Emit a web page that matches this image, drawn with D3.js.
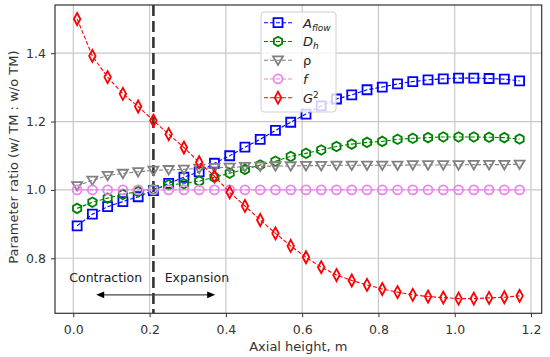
<!DOCTYPE html>
<html>
<head>
<meta charset="utf-8">
<script src="https://cdn.jsdelivr.net/npm/d3@7"></script>
<style>
  body { margin: 0; background: #fff; }
  svg { font-family: "DejaVu Sans", sans-serif; }
</style>
</head>
<body>
<svg id="chart" width="550" height="357"></svg>
<script>
// axial positions, m
const heights = d3.range(30).map(i => +(0.01 + 0.04 * i).toFixed(2));

const aflow = [0.895, 0.929, 0.951, 0.966, 0.980, 0.998, 1.019, 1.037, 1.053, 1.078,
  1.100, 1.125, 1.148, 1.174, 1.198, 1.222, 1.246, 1.266, 1.278, 1.293,
  1.301, 1.310, 1.317, 1.322, 1.325, 1.327, 1.327, 1.326, 1.324, 1.319];
const dh = [0.946, 0.964, 0.976, 0.987, 0.995, 1.002, 1.015, 1.018, 1.026, 1.037,
  1.049, 1.060, 1.073, 1.084, 1.098, 1.107, 1.117, 1.127, 1.134, 1.139,
  1.142, 1.148, 1.151, 1.153, 1.155, 1.155, 1.155, 1.154, 1.153, 1.149];
const rho = [1.012, 1.028, 1.042, 1.048, 1.053, 1.057, 1.059, 1.060, 1.063, 1.065,
  1.066, 1.068, 1.069, 1.070, 1.070, 1.071, 1.071, 1.072, 1.072, 1.072,
  1.072, 1.072, 1.073, 1.073, 1.073, 1.073, 1.074, 1.074, 1.074, 1.075];
const fric = heights.map(() => 1.0);
const g2 = [1.500, 1.392, 1.330, 1.281, 1.244, 1.203, 1.163, 1.124, 1.081, 1.040,
  0.993, 0.953, 0.912, 0.873, 0.836, 0.803, 0.774, 0.751, 0.735, 0.722,
  0.710, 0.701, 0.693, 0.688, 0.685, 0.682, 0.682, 0.684, 0.686, 0.690];

const xTicks = [0.0, 0.2, 0.4, 0.6, 0.8, 1.0, 1.2];
const yTicks = [0.8, 1.0, 1.2, 1.4];
const splitAt = 0.21;

const series = [
  {key: 'aflow', vals: aflow, color: '#0000ff', marker: 'square'},
  {key: 'dh', vals: dh, color: '#008000', marker: 'hexagon'},
  {key: 'rho', vals: rho, color: '#808080', marker: 'tridown'},
  {key: 'f', vals: fric, color: '#ee82ee', marker: 'circle'},
  {key: 'g2', vals: g2, color: '#ff0000', marker: 'diamond'}
];

const W = 550, H = 357;
const margin = {left: 55, right: 8.3, top: 5, bottom: 43.7};
const svg = d3.select('#chart');

const x = d3.scaleLinear().domain([-0.048, 1.228]).range([margin.left, W - margin.right]);
const y = d3.scaleLinear().domain([0.639, 1.541]).range([H - margin.bottom, margin.top]);

// marker outlines, centred at 0,0
function markerPath(type, s) {
  const h = s / 2;
  if (type === 'square') return `M${-h},${-h}H${h}V${h}H${-h}Z`;
  if (type === 'circle') return d3.arc()({innerRadius: 0, outerRadius: h, startAngle: 0, endAngle: 2 * Math.PI});
  if (type === 'hexagon') {
    const pts = d3.range(6).map(i => {
      const a = Math.PI / 2 + i * Math.PI / 3;
      return [h * Math.cos(a), h * Math.sin(a)];
    });
    return 'M' + pts.join('L') + 'Z';
  }
  if (type === 'tridown') return `M${-h},${-h * 0.75}L${h},${-h * 0.75}L0,${h * 0.95}Z`;
  if (type === 'diamond') return `M0,${-h * 1.2}L${h * 0.65},0L0,${h * 1.2}L${-h * 0.65},0Z`;
}
const markerSize = {square: 9, circle: 9, hexagon: 9.5, tridown: 10, diamond: 10};

const plotW = W - margin.left - margin.right;
const plotH = H - margin.top - margin.bottom;

svg.append('clipPath').attr('id', 'clip')
  .append('rect').attr('x', margin.left).attr('y', margin.top).attr('width', plotW).attr('height', plotH);

// grid
const grid = svg.append('g');
grid.selectAll('.gx').data(xTicks).join('line')
  .attr('x1', d => x(d)).attr('x2', d => x(d))
  .attr('y1', margin.top).attr('y2', H - margin.bottom)
  .attr('stroke', '#c8c8c8').attr('stroke-width', 1.2);
grid.selectAll('.gy').data(yTicks).join('line')
  .attr('y1', d => y(d)).attr('y2', d => y(d))
  .attr('x1', margin.left).attr('x2', W - margin.right)
  .attr('stroke', '#c8c8c8').attr('stroke-width', 1.2);

// axes
const xAxis = svg.append('g').attr('transform', `translate(0,${H - margin.bottom})`)
  .call(d3.axisBottom(x).tickValues(xTicks).tickFormat(d3.format('.1f')).tickSize(4).tickPadding(8));
const yAxis = svg.append('g').attr('transform', `translate(${margin.left},0)`)
  .call(d3.axisLeft(y).tickValues(yTicks).tickFormat(d3.format('.1f')).tickSize(4).tickPadding(5));
[xAxis, yAxis].forEach(a => {
  a.select('.domain').remove();
  a.selectAll('text').attr('font-size', 12.5).attr('fill', '#333').attr('font-family', 'DejaVu Sans');
  a.selectAll('line').attr('stroke', '#333');
});

svg.append('text').attr('x', margin.left + plotW / 2).attr('y', 351)
  .attr('text-anchor', 'middle').attr('font-size', 13).attr('fill', '#333')
  .text('Axial height, m');
svg.append('text')
  .attr('transform', `translate(18,${margin.top + plotH / 2 - 2}) rotate(-90)`)
  .attr('text-anchor', 'middle').attr('font-size', 13).attr('fill', '#333')
  .text('Parameter ratio (w/ TM : w/o TM)');

const plot = svg.append('g').attr('clip-path', 'url(#clip)');

// split line
plot.append('line')
  .attr('x1', x(splitAt)).attr('x2', x(splitAt))
  .attr('y1', margin.top).attr('y2', H - margin.bottom)
  .attr('stroke', '#333').attr('stroke-width', 2.6).attr('stroke-dasharray', '11,5');

const line = d3.line().x((d, i) => x(heights[i])).y(d => y(d));

series.forEach(s => {
  const g = plot.append('g');
  g.append('path').datum(s.vals).attr('d', line)
    .attr('fill', 'none').attr('stroke', s.color).attr('stroke-width', 1.1)
    .attr('stroke-dasharray', '4,2');
  g.selectAll('path.m').data(s.vals).join('path').attr('class', 'm')
    .attr('transform', (d, i) => `translate(${x(heights[i])},${y(d)})`)
    .attr('d', markerPath(s.marker, markerSize[s.marker]))
    .attr('fill', 'none').attr('stroke', s.color).attr('stroke-width', 1.8);
});

// annotations
svg.append('text').attr('x', x(0.085)).attr('y', y(0.742)).attr('dy', '0.35em')
  .attr('text-anchor', 'middle').attr('font-size', 12.5).attr('fill', '#222').text('Contraction');
svg.append('text').attr('x', x(0.324)).attr('y', y(0.742)).attr('dy', '0.35em')
  .attr('text-anchor', 'middle').attr('font-size', 12.5).attr('fill', '#222').text('Expansion');
const ax0 = x(0.06), ax1 = x(0.372), ay = y(0.693);
svg.append('line').attr('x1', ax0 + 6).attr('x2', ax1 - 6).attr('y1', ay).attr('y2', ay)
  .attr('stroke', '#444').attr('stroke-width', 1.3);
svg.append('path').attr('d', `M${ax0},${ay}l8,-3.3v6.6Z`).attr('fill', '#000');
svg.append('path').attr('d', `M${ax1},${ay}l-8,-3.3v6.6Z`).attr('fill', '#000');

// frame
svg.append('rect').attr('x', margin.left).attr('y', margin.top).attr('width', plotW).attr('height', plotH)
  .attr('fill', 'none').attr('stroke', '#333').attr('stroke-width', 1.2);

// legend
const leg = svg.append('g').attr('transform', 'translate(261,12)');
leg.append('rect').attr('width', 75).attr('height', 100).attr('rx', 3)
  .attr('fill', '#fff').attr('fill-opacity', 0.8).attr('stroke', '#d0d0d0').attr('stroke-width', 1);
const labels = [
  {base: 'A', sub: 'flow'},
  {base: 'D', sub: 'h'},
  {base: 'ρ', plain: true},
  {base: 'f'},
  {base: 'G', sup: '2'}
];
series.forEach((s, i) => {
  const ry = 10.7 + i * 18.75;
  const r = leg.append('g').attr('transform', `translate(0,${ry})`);
  r.append('line').attr('x1', 3).attr('x2', 31).attr('stroke', s.color)
    .attr('stroke-width', 1.1).attr('stroke-dasharray', '4,2');
  r.append('path').attr('transform', 'translate(17,0)')
    .attr('d', markerPath(s.marker, markerSize[s.marker]))
    .attr('fill', 'none').attr('stroke', s.color).attr('stroke-width', 1.8);
  const lb = labels[i];
  const t = r.append('text').attr('x', 42).attr('dy', '0.38em').attr('font-size', 13).attr('fill', '#222');
  t.append('tspan').attr('font-style', lb.plain ? 'normal' : 'italic').text(lb.base);
  if (lb.sub) t.append('tspan').attr('font-style', 'italic').attr('font-size', 9).attr('dy', 3).text(lb.sub);
  if (lb.sup) t.append('tspan').attr('font-size', 9).attr('dy', -5).text(lb.sup);
});
</script>
</body>
</html>
